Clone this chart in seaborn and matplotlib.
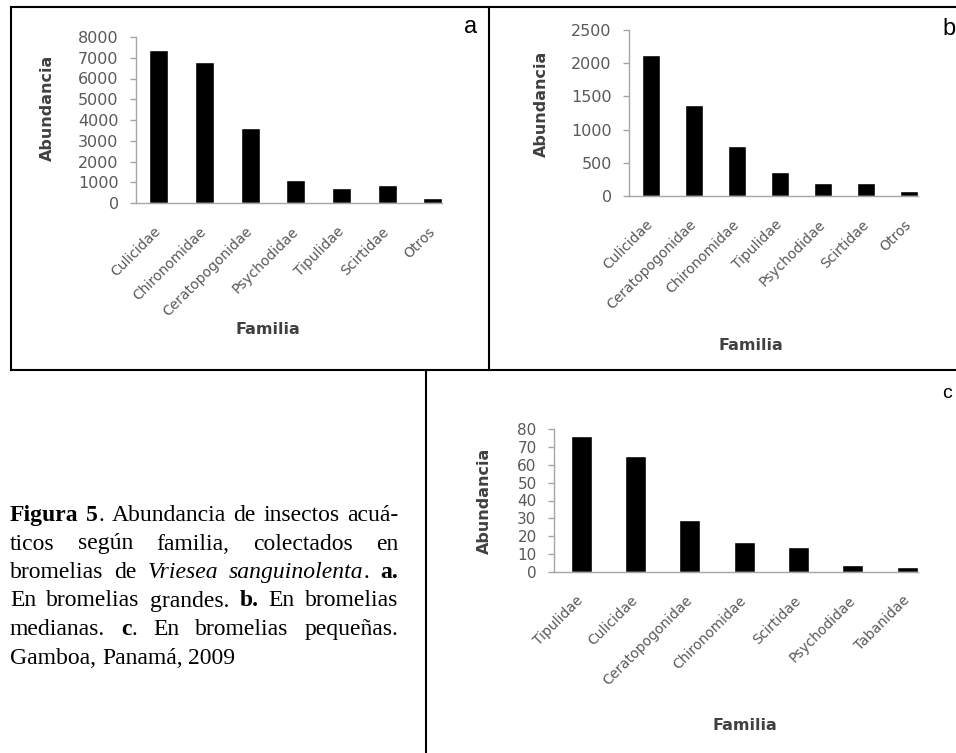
import matplotlib
matplotlib.use("Agg")
import matplotlib.pyplot as plt
import seaborn as sns
import pandas as pd
from matplotlib.lines import Line2D

# Abundance per family, by bromeliad size
fam_a = ["Culicidae", "Chironomidae", "Ceratopogonidae", "Psychodidae",
         "Tipulidae", "Scirtidae", "Otros"]
abund_a = [7350, 6780, 3600, 1110, 730, 870, 220]
ticks_a = [0, 1000, 2000, 3000, 4000, 5000, 6000, 7000, 8000]

fam_b = ["Culicidae", "Ceratopogonidae", "Chironomidae", "Tipulidae",
         "Psychodidae", "Scirtidae", "Otros"]
abund_b = [2120, 1370, 750, 360, 190, 190, 70]
ticks_b = [0, 500, 1000, 1500, 2000, 2500]

fam_c = ["Tipulidae", "Culicidae", "Ceratopogonidae", "Chironomidae",
         "Scirtidae", "Psychodidae", "Tabanidae"]
abund_c = [76, 65, 29, 17, 14, 4, 3]
ticks_c = [0, 10, 20, 30, 40, 50, 60, 70, 80]

W, H = 956, 753
sns.set_theme(style="white")
plt.rcParams["font.family"] = ["DejaVu Sans"]

fig = plt.figure(figsize=(W / 100, H / 100), dpi=100)
fig.patch.set_facecolor("white")


def fx(x):
    return x / W


def fy(y):
    return 1 - y / H


AXIS_GREY = "#a6a6a6"
TICK_TXT = "#595959"
LABEL_TXT = "#404040"

panels = [
    dict(fam=fam_a, val=abund_a, ticks=ticks_a, box=(136, 442, 37, 203),
         width=0.42, ylab=(47, 107.5), xlab=(268, 330), ysize=11.5,
         letter=("a", 471, 33, 17, "center")),
    dict(fam=fam_b, val=abund_b, ticks=ticks_b, box=(629, 918, 30, 196),
         width=0.42, ylab=(541, 104), xlab=(751, 346), ysize=11.5,
         letter=("b", 942, 35, 17, "left")),
    dict(fam=fam_c, val=abund_c, ticks=ticks_c, box=(554, 918, 429, 572),
         width=0.39, ylab=(484, 500.5), xlab=(745, 725), ysize=11,
         letter=("c", 942, 398, 14, "left")),
]

for p in panels:
    l, r, t, b = p["box"]
    ax = fig.add_axes([fx(l), fy(b), (r - l) / W, (b - t) / H])
    df = pd.DataFrame({"Familia": p["fam"], "Abundancia": p["val"]})
    sns.barplot(data=df, x="Familia", y="Abundancia", color="black",
                width=p["width"], saturation=1, ax=ax)
    ax.set_facecolor("none")
    ax.set_xlim(-0.5, 6.2)
    ax.set_ylim(0, p["ticks"][-1])
    ax.set_yticks(p["ticks"])
    for side in ("top", "right"):
        ax.spines[side].set_visible(False)
    for side in ("left", "bottom"):
        ax.spines[side].set_color(AXIS_GREY)
        ax.spines[side].set_linewidth(1.0)
    ax.tick_params(axis="y", left=True, length=4.5, width=1.0, color=AXIS_GREY,
                   pad=8, labelcolor=TICK_TXT, labelsize=p["ysize"])
    ax.tick_params(axis="x", bottom=False, length=0, pad=19,
                   labelcolor=TICK_TXT, labelsize=10)
    plt.setp(ax.get_xticklabels(), rotation=45, ha="right",
             rotation_mode="anchor", va="center")

    ax.set_ylabel("Abundancia", fontsize=11.5, fontweight="bold",
                  color=LABEL_TXT, va="center")
    ax.yaxis.set_label_coords((p["ylab"][0] - l) / (r - l),
                              (b - p["ylab"][1]) / (b - t))
    ax.set_xlabel("Familia", fontsize=11.5, fontweight="bold",
                  color=LABEL_TXT, va="center")
    ax.xaxis.set_label_coords((p["xlab"][0] - l) / (r - l),
                              (b - p["xlab"][1]) / (b - t))

    txt, lx, ly, lsize, lha = p["letter"]
    fig.text(fx(lx), fy(ly), txt, ha=lha, va="baseline", fontsize=lsize,
             family=["Liberation Sans"], color="black")

# Panel frames
frame_kw = dict(transform=fig.transFigure, color="black", linewidth=1.5,
                solid_capstyle="projecting")
for (x0, y0, x1, y1) in [(11, 7, 956, 7), (11, 7, 11, 370), (489, 7, 489, 370),
                         (11, 370, 956, 370), (426, 370, 426, 753)]:
    fig.add_artist(Line2D([fx(x0), fx(x1)], [fy(y0), fy(y1)], **frame_kw))

# Figure caption, justified between two margins
renderer = fig.canvas.get_renderer()
CAP_SIZE = 17
STYLES = {
    "r": dict(family=["Liberation Serif"], fontsize=CAP_SIZE),
    "b": dict(family=["Liberation Serif"], fontsize=CAP_SIZE, fontweight="bold"),
    "i": dict(family=["Liberation Serif"], fontsize=CAP_SIZE, fontstyle="italic"),
}

caption = [
    [[("Figura", "b")], [("5", "b"), (".", "r")], [("Abundancia", "r")],
     [("de", "r")], [("insectos", "r")], [("acuá-", "r")]],
    [[("ticos", "r")], [("según", "r")], [("familia,", "r")],
     [("colectados", "r")], [("en", "r")]],
    [[("bromelias", "r")], [("de", "r")], [("Vriesea", "i")],
     [("sanguinolenta", "i"), (".", "r")], [("a.", "b")]],
    [[("En", "r")], [("bromelias", "r")], [("grandes.", "r")],
     [("b.", "b")], [("En", "r")], [("bromelias", "r")]],
    [[("medianas.", "r")], [("c", "b"), (".", "r")], [("En", "r")],
     [("bromelias", "r")], [("pequeñas.", "r")]],
    [[("Gamboa,", "r")], [("Panamá,", "r")], [("2009", "r")]],
]


def seg_width(s, style):
    tmp = fig.text(0, 0, s, **STYLES[style])
    w = tmp.get_window_extent(renderer).width
    tmp.remove()
    return w


space_w = seg_width("a a", "r") - seg_width("aa", "r")
left_px, right_px = 10, 398
base0, line_step = 521, 28.5
for i, words in enumerate(caption):
    widths = [[seg_width(s, st) for s, st in word] for word in words]
    word_w = [sum(ws) for ws in widths]
    last = i == len(caption) - 1
    if last:
        gap = space_w
    else:
        gap = (right_px - left_px - sum(word_w)) / (len(words) - 1)
    x = left_px
    y = base0 + i * line_step
    for word, ws in zip(words, widths):
        xx = x
        for (s, st), w in zip(word, ws):
            fig.text(fx(xx), fy(y), s, ha="left", va="baseline",
                     color="black", **STYLES[st])
            xx += w
        x += sum(ws) + gap

fig.savefig("out.png", dpi=100, facecolor="white")
